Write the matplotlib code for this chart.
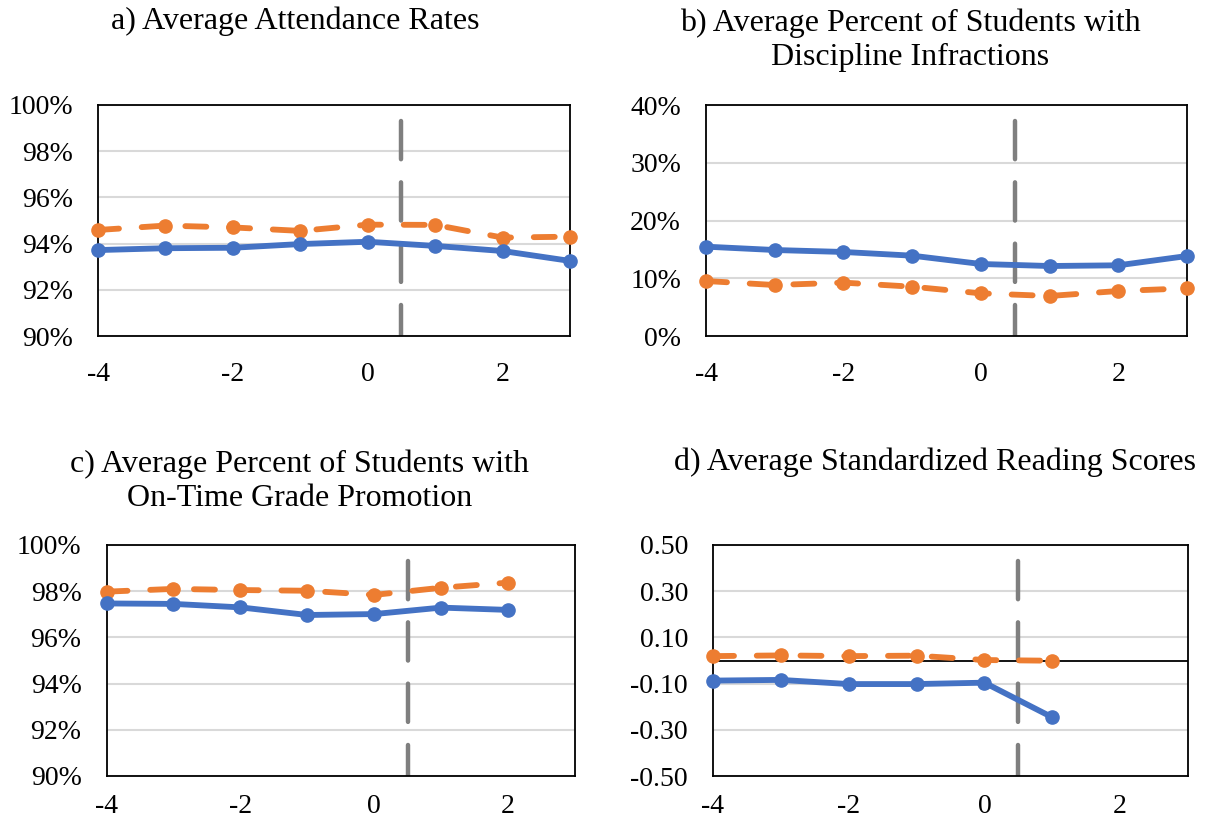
import numpy as np
import matplotlib
matplotlib.use("Agg")
import matplotlib.pyplot as plt
from matplotlib.ticker import FuncFormatter

plt.rcParams['font.family'] = ['Liberation Serif', 'DejaVu Serif']
plt.rcParams['font.size'] = 20
plt.rcParams['axes.unicode_minus'] = False

# years relative to the event
years = [-4, -3, -2, -1, 0, 1, 2, 3]

# a) attendance (%)
att_blue = [93.72, 93.80, 93.82, 93.98, 94.08, 93.90, 93.68, 93.25]
att_orange = [94.59, 94.78, 94.70, 94.55, 94.82, 94.81, 94.26, 94.30]

# b) discipline infractions (%)
disc_blue = [15.47, 14.89, 14.55, 13.91, 12.47, 12.12, 12.24, 13.85]
disc_orange = [9.52, 8.83, 9.24, 8.54, 7.39, 6.93, 7.79, 8.25]

# c) on-time grade promotion (%), no year 3
prom_years = [-4, -3, -2, -1, 0, 1, 2]
prom_blue = [97.47, 97.45, 97.30, 96.97, 97.01, 97.29, 97.19]
prom_orange = [97.98, 98.10, 98.05, 98.02, 97.84, 98.15, 98.37]

# d) standardized reading scores, only through year 1
read_years = [-4, -3, -2, -1, 0, 1]
read_blue = [-0.087, -0.084, -0.102, -0.102, -0.096, -0.246]
read_orange = [0.019, 0.022, 0.019, 0.021, 0.002, -0.001]

titles = ["a) Average Attendance Rates",
          "b) Average Percent of Students with\nDiscipline Infractions",
          "c) Average Percent of Students with\nOn-Time Grade Promotion",
          "d) Average Standardized Reading Scores"]

BLUE = '#4472C4'
ORANGE = '#ED7D31'
GREY = '#7F7F7F'

W, H = 1211, 824
fig = plt.figure(figsize=(W / 100, H / 100), dpi=100)


def px_axes(left, top, right, bottom):
    return fig.add_axes([left / W, 1 - bottom / H, (right - left) / W, (bottom - top) / H])


def style_panel(ax, ylim, step, fmt, xpad=19):
    ax.set_xlim(-4, 3)
    ax.set_ylim(*ylim)
    ax.set_xticks([-4, -2, 0, 2])
    ax.set_yticks(np.arange(ylim[0], ylim[1] + step / 2, step))
    ax.yaxis.set_major_formatter(FuncFormatter(fmt))
    ax.tick_params(length=0)
    ax.tick_params(axis='x', pad=xpad)
    ax.tick_params(axis='y', pad=18)
    for s in ax.spines.values():
        s.set_color('black')
        s.set_linewidth(1.3)
    ax.grid(axis='y', color='#D9D9D9', linewidth=1.5)
    ax.set_axisbelow(True)
    # event marker between year 0 and year 1
    lo, hi = ylim
    ax.plot([0.5, 0.5], [lo + 0.93 * (hi - lo), lo], color=GREY, lw=3.2,
            dashes=(8.6, 5.2), dash_capstyle='round', zorder=2)


def draw_series(ax, x, blue, orange):
    ax.plot(x, blue, color=BLUE, lw=4.2, marker='o', ms=9.5,
            solid_capstyle='round', zorder=4, clip_on=False)
    ax.plot(x, orange, color=ORANGE, lw=4.2, marker='o', ms=9.5,
            dashes=(3.6, 3.9), dash_capstyle='round', zorder=3, clip_on=False)


pct = lambda v, p: f"{v:.0f}%"

ax1 = px_axes(98, 105, 570, 336)
style_panel(ax1, (90, 100), 2, pct)
draw_series(ax1, years, att_blue, att_orange)

ax2 = px_axes(706, 105, 1187, 336)
style_panel(ax2, (0, 40), 10, pct)
draw_series(ax2, years, disc_blue, disc_orange)

ax3 = px_axes(106.5, 545, 575, 776)
style_panel(ax3, (90, 100), 2, pct, xpad=13)
draw_series(ax3, prom_years, prom_blue, prom_orange)

ax4 = px_axes(713, 545, 1188, 776)
style_panel(ax4, (-0.5, 0.5), 0.2, lambda v, p: f"{v:.2f}", xpad=13)
ax4.axhline(0, color='black', lw=1.3, zorder=2)
draw_series(ax4, read_years, read_blue, read_orange)

# panel titles
title_pos = [(295, 21), (910, 40), (300, 481), (935, 462)]
for t, (x, y) in zip(titles, title_pos):
    fig.text(x / W, 1 - y / H, t, ha='center', va='center', fontsize=23,
             linespacing=1.22, multialignment='center')

fig.savefig('out.png', dpi=100, facecolor='white')
